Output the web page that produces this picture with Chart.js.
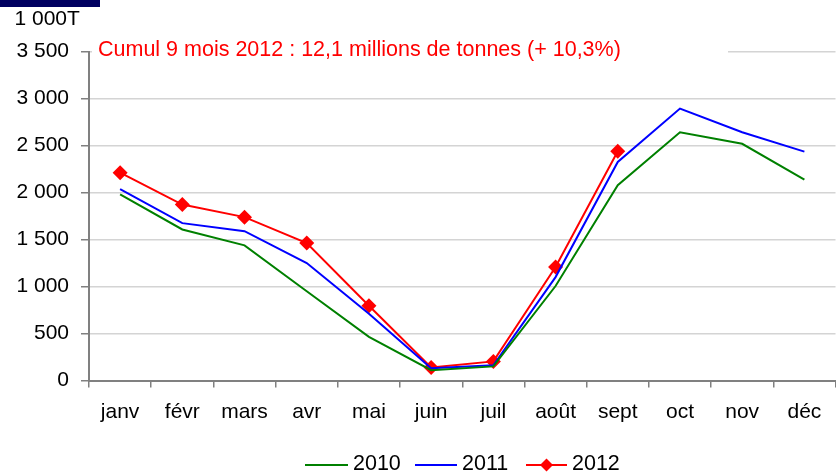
<!DOCTYPE html>
<html>
<head>
<meta charset="utf-8">
<script src="https://cdn.jsdelivr.net/npm/chart.js@4.4.1/dist/chart.umd.min.js"></script>
<style>
  html, body { margin: 0; padding: 0; background: #fff; overflow: hidden; }
  #wrap { position: relative; width: 843px; height: 474px; }
</style>
</head>
<body>
<div id="wrap"><canvas id="c"></canvas></div>
<script>
const months = ['janv', 'févr', 'mars', 'avr', 'mai', 'juin', 'juil', 'août', 'sept', 'oct', 'nov', 'déc'];
const s2010 = [1980, 1607, 1438, 950, 465, 110, 150, 1005, 2077, 2641, 2518, 2136];
const s2011 = [2036, 1674, 1589, 1250, 710, 131, 162, 1100, 2325, 2893, 2641, 2435];
const s2012 = [2211, 1872, 1738, 1462, 795, 138, 203, 1208, 2438, null, null, null];
const seriesNames = ['2010', '2011', '2012'];
const seriesColors = ['#008000', '#0000ff', '#ff0000'];
const unitLabel = '1 000T';
const noteText = 'Cumul 9 mois 2012 : 12,1 millions de tonnes (+ 10,3%)';

const FONT = "'Liberation Sans', Arial, sans-serif";
Chart.defaults.font.family = FONT;
Chart.defaults.font.size = 21;
Chart.defaults.color = '#000';

function fmt(v) {
  if (v >= 1000) return Math.floor(v / 1000) + ' ' + String(v % 1000).padStart(3, '0');
  return String(v);
}

const extras = {
  id: 'extras',
  afterDraw(chart) {
    const ctx = chart.ctx;
    ctx.save();
    // top navy bar
    ctx.fillStyle = '#000060';
    ctx.fillRect(0, 0, 100, 7);
    // unit label
    ctx.fillStyle = '#000';
    ctx.font = '21px ' + FONT;
    ctx.textBaseline = 'middle';
    ctx.textAlign = 'left';
    ctx.fillText(unitLabel, 14.5, 19);
    // note with white box
    ctx.fillStyle = '#fff';
    ctx.fillRect(92, 40, 728 - 92, 22);
    ctx.fillStyle = '#ff0000';
    ctx.font = '21.5px ' + FONT;
    ctx.fillText(noteText, 98, 50);
    // legend
    ctx.font = '21.5px ' + FONT;
    const items = [
      { x0: 305, x1: 348, tx: 353 },
      { x0: 415, x1: 457, tx: 462 },
      { x0: 526, x1: 567, tx: 572 }
    ];
    const ly = 465;
    items.forEach((it, i) => {
      ctx.strokeStyle = seriesColors[i];
      ctx.lineWidth = 2;
      ctx.beginPath();
      ctx.moveTo(it.x0, ly);
      ctx.lineTo(it.x1, ly);
      ctx.stroke();
      if (i === 2) {
        const cx = (it.x0 + it.x1) / 2, r = 6.5;
        ctx.fillStyle = seriesColors[i];
        ctx.beginPath();
        ctx.moveTo(cx, ly - r); ctx.lineTo(cx + r, ly); ctx.lineTo(cx, ly + r); ctx.lineTo(cx - r, ly);
        ctx.closePath();
        ctx.fill();
      }
      ctx.fillStyle = '#000';
      ctx.fillText(seriesNames[i], it.tx, ly - 1);
    });
    ctx.restore();
  }
};

new Chart(document.getElementById('c'), {
  type: 'line',
  data: {
    labels: months,
    datasets: [
      { label: seriesNames[0], data: s2010, borderColor: seriesColors[0], borderWidth: 2, pointRadius: 0, pointHoverRadius: 0, fill: false, tension: 0 },
      { label: seriesNames[1], data: s2011, borderColor: seriesColors[1], borderWidth: 2, pointRadius: 0, pointHoverRadius: 0, fill: false, tension: 0 },
      { label: seriesNames[2], data: s2012, borderColor: seriesColors[2], backgroundColor: seriesColors[2], borderWidth: 2, pointStyle: 'rectRot', pointRadius: 7.5, pointBorderWidth: 0, pointBackgroundColor: seriesColors[2], fill: false, tension: 0 }
    ]
  },
  options: {
    responsive: true,
    maintainAspectRatio: false,
    animation: false,
    devicePixelRatio: 1,
    layout: { padding: { top: 51.5, left: 0, right: 0, bottom: 0 } },
    plugins: { legend: { display: false }, tooltip: { enabled: false }, title: { display: false } },
    scales: {
      x: {
        type: 'category',
        offset: true,
        grid: { offset: true, drawOnChartArea: false, drawTicks: true, tickLength: 7, tickColor: '#808080', lineWidth: 1.5 },
        border: { display: true, color: '#808080', width: 2 },
        ticks: { padding: 12, maxRotation: 0, autoSkip: false, font: { size: 21 }, color: '#000' },
        afterFit(scale) { scale.height = 93.5; }
      },
      y: {
        min: 0, max: 3500,
        ticks: { stepSize: 500, padding: 12, callback: (v) => fmt(v), font: { size: 21 }, color: '#000' },
        grid: { color: '#d4d4d4', lineWidth: 1.5, tickLength: 8, tickColor: '#808080' },
        border: { display: true, color: '#808080', width: 2 },
        afterFit(scale) { scale.width = 89; }
      }
    }
  },
  plugins: [extras]
});
</script>
</body>
</html>
